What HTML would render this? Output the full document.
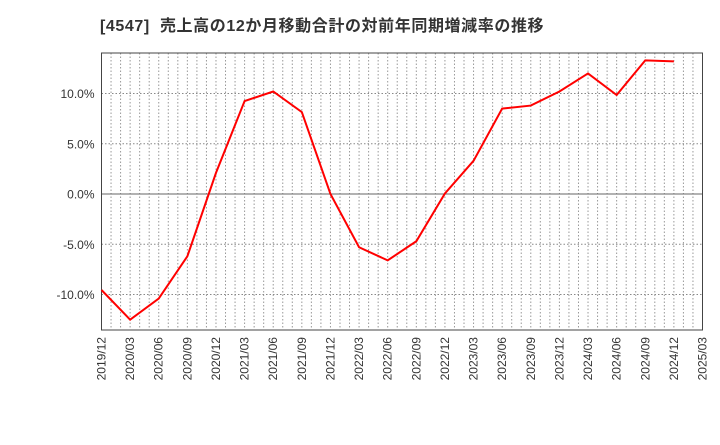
<!DOCTYPE html>
<html><head><meta charset="utf-8"><style>
body{margin:0;background:#fff;}
svg text{font-family:"Liberation Sans","Noto Sans CJK JP",sans-serif;fill:#333;}
</style></head><body>
<svg id="chart" width="720" height="440" xmlns="http://www.w3.org/2000/svg">
<text x="100" y="31" font-size="16" font-weight="bold" letter-spacing="0.6" xml:space="preserve">[4547]  売上高の12か月移動合計の対前年同期増減率の推移</text>
<g id="grid"></g><g id="axes"></g><g id="series"></g>
</svg>
<script>
const categories=["2019/12","2020/03","2020/06","2020/09","2020/12","2021/03","2021/06","2021/09","2021/12","2022/03","2022/06","2022/09","2022/12","2023/03","2023/06","2023/09","2023/12","2024/03","2024/06","2024/09","2024/12","2025/03"];
const values=[-9.55,-12.5,-10.4,-6.2,2.1,9.25,10.2,8.15,0,-5.3,-6.6,-4.7,0.05,3.3,8.5,8.8,10.2,12.0,9.85,13.3,13.2];
const yTicks=[-10,-5,0,5,10];
const yTickLabels=["-10.0%","-5.0%","0.0%","5.0%","10.0%"];
const L=101.5,R=702.5,T=53,B=330,yMin=-13.53,yMax=14.03;
const NS="http://www.w3.org/2000/svg";
const xs=i=>L+(R-L)*i/(categories.length-1);
const xm=m=>L+(R-L)*m/((categories.length-1)*3);
const ys=v=>B-(v-yMin)/(yMax-yMin)*(B-T);
function mk(t,a,p){const e=document.createElementNS(NS,t);for(const k in a)e.setAttribute(k,a[k]);p.appendChild(e);return e;}
const grid=document.getElementById('grid'),axes=document.getElementById('axes'),series=document.getElementById('series');
for(let m=1;m<(categories.length-1)*3;m++){
 const l=mk('line',{x1:xm(m),x2:xm(m),y1:T,y2:B,stroke:'#999','stroke-dasharray':'1.5,2','stroke-width':1},grid);
 
 
}
yTicks.forEach((v,i)=>{
 const l=mk('line',{x1:L,x2:R,y1:ys(v),y2:ys(v),stroke:v===0?'#666':'#888','stroke-dasharray':v===0?'':'1.5,2','stroke-width':1},grid);
 
 
 const t=mk('text',{x:L-7,y:ys(v)+4.5,'text-anchor':'end','font-size':12},axes);
 t.textContent=yTickLabels[i];
 
 
});
const fr=mk('rect',{x:L,y:T,width:R-L,height:B-T,fill:'none',stroke:'#444','stroke-width':1},axes);


categories.forEach((c,i)=>{
 const x=xs(i),y=337;
 const t=mk('text',{x:x+4,y:y,'text-anchor':'end','font-size':12,transform:`rotate(-90 ${x+4} ${y})`},axes);
 t.textContent=c;
 
 
});
const pts=values.map((v,i)=>xs(i)+','+ys(v)).join(' ');
const pl=mk('polyline',{points:pts,fill:'none',stroke:'#ff0000','stroke-width':2,'stroke-linejoin':'miter'},series);


</script>
</body></html>
